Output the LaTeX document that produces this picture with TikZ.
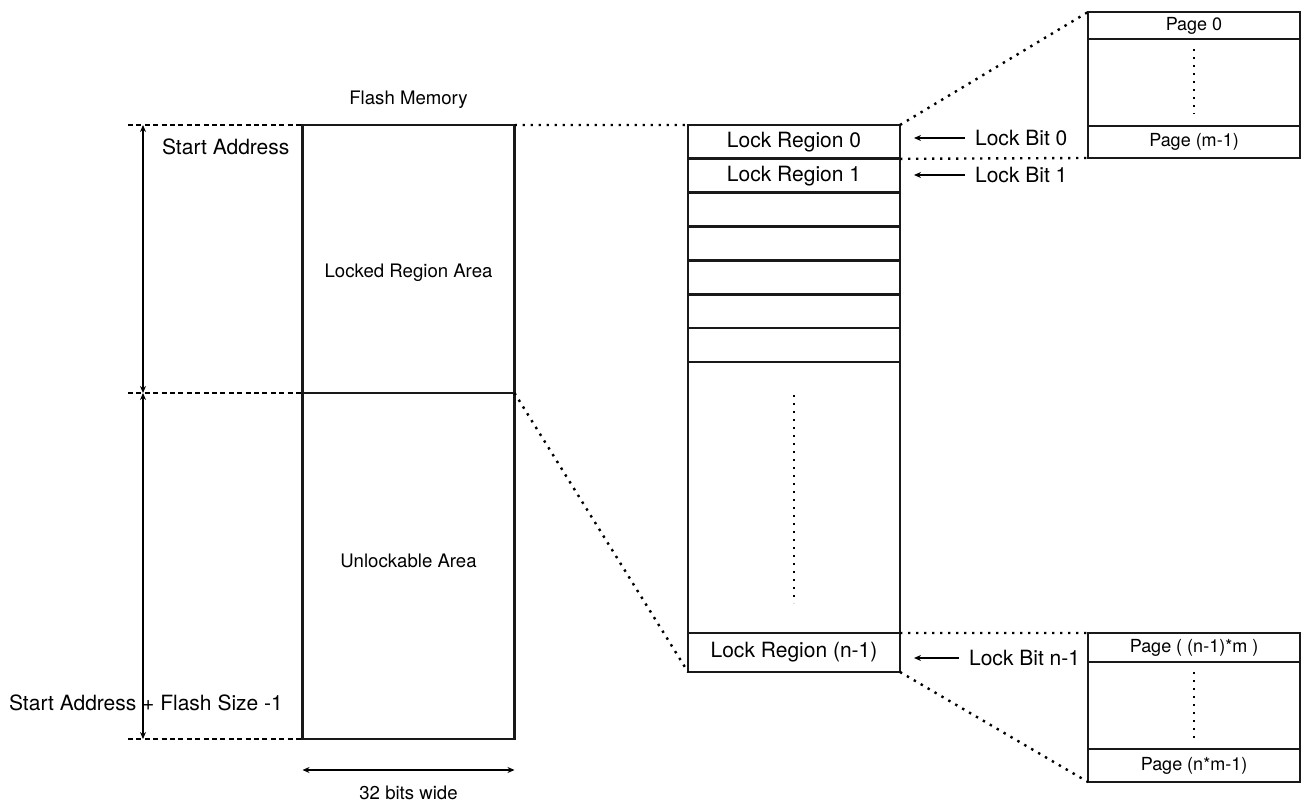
\documentclass[tikz,border=0pt]{standalone}
\usepackage{fontspec}
\setmainfont{TeX Gyre Heros}
\usetikzlibrary{arrows.meta,positioning}

\begin{document}
\begin{tikzpicture}[
    x=0.5pt, y=-0.5pt,
    cell/.style={rectangle, draw=black!90, line width=1.35pt, inner sep=0pt, outer sep=0pt, minimum width=106pt, align=center},
    lbl/.style={font=\fontsize{9.3}{11}\selectfont},
    biglbl/.style={font=\fontsize{10.5}{12}\selectfont},
    pglbl/.style={font=\fontsize{9}{11}\selectfont},
    dotline/.style={line width=1.2pt, dash pattern=on 1.2pt off 2.8pt},
    dashline/.style={line width=1.3pt, dash pattern=on 2.5pt off 1.7pt},
    dimarrow/.style={{Stealth[length=3.5pt,width=3pt]}-{Stealth[length=3.5pt,width=3pt]}, line width=0.6pt},
    bitarrow/.style={-{Stealth[length=3.5pt,width=3pt]}, line width=0.6pt}
]
    \useasboundingbox (0,0) rectangle (1301,801);

    \node[cell, minimum height=134pt] (locked) at (408.5,259) {};
    \node[cell, minimum height=173pt, below=0pt of locked] (unlock) {};
    \node[lbl] (fm) at (408.5,100) {Flash Memory};
    \node[lbl] (lockedtxt) at ([yshift=-7pt]locked.center) {Locked Region Area};
    \node[lbl] (unlocktxt) at ([yshift=2.5pt]unlock.center) {Unlockable Area};

    \node[cell, minimum height=16.93pt, biglbl] (lr0) at (794,141.9) {Lock Region 0};
    \node[cell, minimum height=16.93pt, biglbl, below=0pt of lr0] (lr1) {Lock Region 1};
    \foreach \i [remember=\i as \j (initially 1)] in {2,...,6}
        \node[cell, minimum height=16.93pt, below=0pt of lr\j] (lr\i) {};
    \node[cell, minimum height=135.5pt, below=0pt of lr6] (lrmid) {};
    \node[cell, minimum height=19.5pt, biglbl, below=0pt of lrmid] (lrn) {Lock Region (n-1)};

    \node[cell, minimum height=13.5pt, pglbl] (pg0) at (1194,25.5) {Page 0};
    \node[cell, minimum height=43.5pt, below=0pt of pg0] (pgdots) {};
    \node[cell, minimum height=16pt, pglbl, below=0pt of pgdots] (pgm) {Page (m-1)};

    \node[cell, minimum height=14.5pt, pglbl] (pgn0) at (1194,647.5) {Page ( (n-1)*m )};
    \node[cell, minimum height=43.5pt, below=0pt of pgn0] (pgndots) {};
    \node[cell, minimum height=16.5pt, pglbl, below=0pt of pgndots] (pgnm) {Page (n*m-1)};

    \draw[dotline] ([yshift=-16.5pt]lrmid.north) -- ([yshift=15pt]lrmid.south);
    \draw[dotline] ([yshift=-5pt]pgdots.north) -- ([yshift=6pt]pgdots.south);
    \draw[dotline] ([yshift=-5pt]pgndots.north) -- ([yshift=4.5pt]pgndots.south);

    \node[biglbl, anchor=west] (lb0) at (968,138) {Lock Bit 0};
    \node[biglbl, anchor=west] (lb1) at (968,175) {Lock Bit 1};
    \node[biglbl, anchor=west] (lbn) at (962,658) {Lock Bit n-1};
    \draw[bitarrow] ([xshift=-1.5pt]lb0.west) -- ++(-25.5pt,0);
    \draw[bitarrow] ([xshift=-1.5pt]lb1.west) -- ++(-25.5pt,0);
    \draw[bitarrow] ([xshift=-1.5pt]lbn.west) -- ++(-22.5pt,0);

    \coordinate (dashx) at (128,0);
    \coordinate (dimx) at (143,0);
    \coordinate (widy) at (0,770);
    \draw[dashline] (dashx |- locked.north) -- (locked.north west);
    \draw[dashline] (dashx |- locked.south) -- (locked.south west);
    \draw[dashline] (dashx |- unlock.south) -- (unlock.south west);
    \draw[dimarrow] (dimx |- locked.north) -- (dimx |- locked.south);
    \draw[dimarrow] (dimx |- unlock.north) -- (dimx |- unlock.south);
    \node[biglbl, anchor=west] (sa) at (155,147) {Start Address};
    \node[biglbl, anchor=west] (ea) at (2,703) {Start Address + Flash Size -1};

    \draw[dimarrow] (unlock.west |- widy) -- (unlock.east |- widy);
    \node[lbl] (widtxt) at (408.5,793) {32 bits wide};

    \draw[dotline] (locked.north east) -- (lr0.north west);
    \draw[dotline] (locked.south east) -- (lrn.south west);
    \draw[dotline] (lr0.north east) -- (pg0.north west);
    \draw[dotline] (lr0.south east) -- (pgm.south west);
    \draw[dotline] (lrn.north east) -- (pgn0.north west);
    \draw[dotline] (lrn.south east) -- (pgnm.south west);
\end{tikzpicture}
\end{document}
